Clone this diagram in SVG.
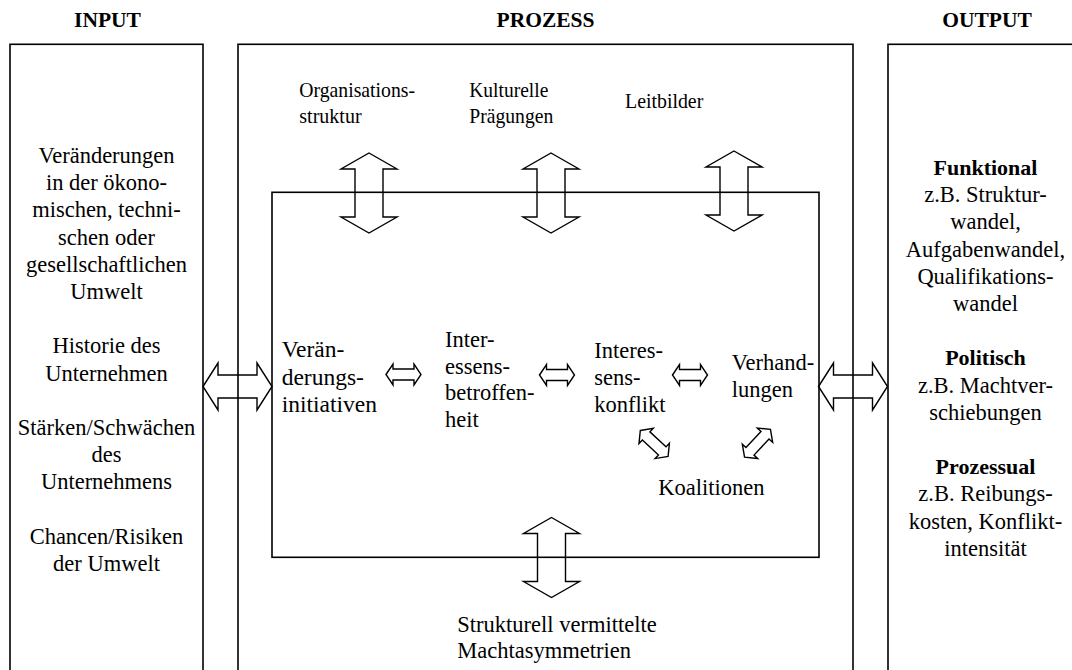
<svg xmlns="http://www.w3.org/2000/svg" width="1072" height="670" viewBox="0 0 1072 670">
  <style>
    text { font-family: "Liberation Serif", "Times New Roman", serif; font-size: 22.5px; fill: #000; }
    .head { font-weight: bold; font-size: 21.5px; text-anchor: middle; }
    .mid { text-anchor: middle; }
    .b { font-weight: bold; font-size: 22px; }
    .top { font-size: 22px; }
    .big { font-size: 23.5px; }
    .box { fill: none; stroke: #000; stroke-width: 1.6; }
    .arrow { fill: none; stroke: #000; stroke-width: 1.4; stroke-linejoin: miter; }
  </style>
  <defs>
    <!-- vertical double arrow, centred on 0,0 -->
    <path id="vArrow" d="M0,-40 L28,-24 L14,-24 L14,24 L28,24 L0,40 L-28,24 L-14,24 L-14,-24 L-28,-24 Z"/>
    <!-- small horizontal double arrow -->
    <path id="hSmall" d="M-17.5,0 L-10.5,-10.5 L-10.5,-5.5 L10.5,-5.5 L10.5,-10.5 L17.5,0 L10.5,10.5 L10.5,5.5 L-10.5,5.5 L-10.5,10.5 Z"/>
    <!-- small diagonal double arrow (drawn horizontally, rotated in use) -->
    <path id="dSmall" d="M-19,0 L-11,-10.5 L-11,-5.5 L11,-5.5 L11,-10.5 L19,0 L11,10.5 L11,5.5 L-11,5.5 L-11,10.5 Z"/>
    <!-- wide horizontal double arrow between the columns -->
    <path id="hWide" d="M-34.5,0 L-19.5,-23.5 L-19.5,-11.5 L19.5,-11.5 L19.5,-23.5 L34.5,0 L19.5,23.5 L19.5,11.5 L-19.5,11.5 L-19.5,23.5 Z"/>
  </defs>

  <rect width="1072" height="670" fill="#fff"/>

  <!-- column headings -->
  <g id="headings">
    <text class="head" x="107.5" y="27.3">INPUT</text>
    <text class="head" x="545.5" y="27.3">PROZESS</text>
    <text class="head" x="987" y="27.3">OUTPUT</text>
  </g>

  <!-- input column -->
  <g id="input">
    <rect class="box" x="10" y="44.3" width="193" height="640"/>
    <text class="mid" x="106.5" y="163">Veränderungen</text>
    <text class="mid" x="106.5" y="190.2">in der ökono-</text>
    <text class="mid" x="106.5" y="217.4">mischen, techni-</text>
    <text class="mid" x="106.5" y="244.6">schen oder</text>
    <text class="mid" x="106.5" y="271.8">gesellschaftlichen</text>
    <text class="mid" x="106.5" y="299">Umwelt</text>
    <text class="mid" x="106.5" y="353.4">Historie des</text>
    <text class="mid" x="106.5" y="380.6">Unternehmen</text>
    <text class="mid" x="106.5" y="435">Stärken/Schwächen</text>
    <text class="mid" x="106.5" y="462.2">des</text>
    <text class="mid" x="106.5" y="489.4">Unternehmens</text>
    <text class="mid" x="106.5" y="543.8">Chancen/Risiken</text>
    <text class="mid" x="106.5" y="571">der Umwelt</text>
  </g>

  <!-- process column -->
  <g id="prozess">
    <rect class="box" x="238" y="44.3" width="615" height="640"/>
  </g>
  <g id="kern">
    <rect class="box" x="272" y="192.3" width="547" height="365"/>
  </g>

  <!-- output column -->
  <g id="output">
    <rect class="box" x="888" y="44.3" width="200" height="640"/>
    <text class="mid b" x="985.5" y="175">Funktional</text>
    <text class="mid" x="985.5" y="202.2">z.B. Struktur-</text>
    <text class="mid" x="985.5" y="229.4">wandel,</text>
    <text class="mid" x="985.5" y="256.6">Aufgabenwandel,</text>
    <text class="mid" x="985.5" y="283.8">Qualifikations-</text>
    <text class="mid" x="985.5" y="311">wandel</text>
    <text class="mid b" x="985.5" y="365.4">Politisch</text>
    <text class="mid" x="985.5" y="392.6">z.B. Machtver-</text>
    <text class="mid" x="985.5" y="419.8">schiebungen</text>
    <text class="mid b" x="985.5" y="474.2">Prozessual</text>
    <text class="mid" x="985.5" y="501.4">z.B. Reibungs-</text>
    <text class="mid" x="985.5" y="528.6">kosten, Konflikt-</text>
    <text class="mid" x="985.5" y="555.8">intensität</text>
  </g>

  <!-- context factors above the core (set slightly condensed) -->
  <g id="organisationsstruktur">
    <text class="top" x="299.3" y="96.7" textLength="115.7" lengthAdjust="spacingAndGlyphs">Organisations-</text>
    <text class="top" x="299.3" y="123.3" textLength="62.3" lengthAdjust="spacingAndGlyphs">struktur</text>
  </g>
  <g id="kulturelle-praegungen">
    <text class="top" x="469.3" y="96.7" textLength="79" lengthAdjust="spacingAndGlyphs">Kulturelle</text>
    <text class="top" x="469.3" y="123.3" textLength="84" lengthAdjust="spacingAndGlyphs">Prägungen</text>
  </g>
  <g id="leitbilder">
    <text class="top" x="625" y="108.3" textLength="78.3" lengthAdjust="spacingAndGlyphs">Leitbilder</text>
  </g>

  <!-- core process steps -->
  <g id="veraenderungsinitiativen">
    <text class="big" x="281.7" y="357.3">Verän-</text>
    <text class="big" x="281.7" y="384.5">derungs-</text>
    <text class="big" x="281.7" y="411.7">initiativen</text>
  </g>
  <g id="interessensbetroffenheit">
    <text x="445" y="347">Inter-</text>
    <text x="445" y="373.6">essens-</text>
    <text x="445" y="400.2">betroffen-</text>
    <text x="445" y="426.8">heit</text>
  </g>
  <g id="interessenskonflikt">
    <text x="594.3" y="358.3">Interes-</text>
    <text x="594.3" y="385">sens-</text>
    <text x="594.3" y="411.7">konflikt</text>
  </g>
  <g id="verhandlungen">
    <text x="731.7" y="370">Verhand-</text>
    <text x="731.7" y="396.7">lungen</text>
  </g>
  <g id="koalitionen">
    <text x="658.3" y="495">Koalitionen</text>
  </g>
  <g id="machtasymmetrien">
    <text x="457.3" y="631.7">Strukturell vermittelte</text>
    <text x="457.3" y="658.3">Machtasymmetrien</text>
  </g>

  <!-- connectors: hollow double arrows -->
  <g id="connectors" class="arrow">
    <use href="#vArrow" x="369" y="193"/>
    <use href="#vArrow" x="551" y="193"/>
    <use href="#vArrow" x="734" y="191"/>
    <use href="#vArrow" x="551.5" y="557.5"/>
    <use href="#hWide" x="237.5" y="386.5"/>
    <use href="#hWide" x="853" y="386.5"/>
    <use href="#hSmall" x="403.5" y="374.5"/>
    <use href="#hSmall" x="557" y="375"/>
    <use href="#hSmall" x="690" y="375"/>
    <use href="#dSmall" transform="translate(654.2,443.4) rotate(43)"/>
    <use href="#dSmall" transform="translate(757.5,443.3) rotate(-47)"/>
  </g>
</svg>
